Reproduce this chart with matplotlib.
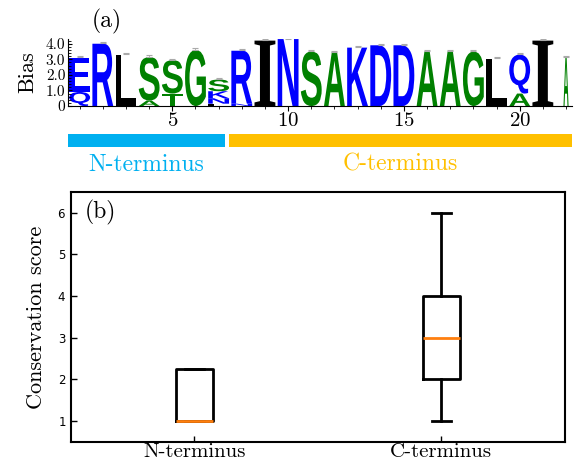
import numpy as np
import matplotlib
matplotlib.use("Agg")
import matplotlib.pyplot as plt
from matplotlib.textpath import TextPath
from matplotlib.font_manager import FontProperties
from matplotlib.patches import PathPatch
from matplotlib.transforms import Affine2D
from matplotlib.ticker import MultipleLocator, FixedLocator, FixedFormatter

plt.rcParams['axes.formatter.use_mathtext'] = True

# ---- data: sequence logo (a) ----
positions = np.arange(1, 23)
logo_letters = [["Q", "E"], ["R"], ["L"], ["A", "S"], ["T", "S"], ["G"],
                ["L", "N", "K", "S"], ["N", "R"], ["I"], ["N"], ["S"], ["A"],
                ["K"], ["D"], ["D"], ["A"], ["A"], ["G"], ["L"], ["A", "Q"],
                ["I"], ["A"]]
logo_heights = [[0.9, 2.2], [4.0], [3.3], [0.35, 2.8], [0.8, 2.15], [3.6],
                [0.15, 0.35, 0.45, 0.75], [0.15, 3.4], [4.2], [4.3], [3.5], [3.45],
                [3.75], [3.9], [3.9], [3.5], [3.5], [3.5], [3.05], [0.8, 2.5],
                [4.2], [3.1]]

segments = ["N-terminus", "C-terminus"]
seg_start = [1, 8]
seg_end = [7, 22]

# ---- data: box plot (b) ----
groups = ["N-terminus", "C-terminus"]
whislo = [1, 1]
q1 = [1, 2]
med = [1, 3]
q3 = [2.25, 4]
whishi = [2.25, 6]

letter_colors = {"Q": "#0000ff", "E": "#0000ff", "R": "#0000ff", "K": "#0000ff",
                 "N": "#0000ff", "D": "#0000ff",
                 "S": "#008000", "G": "#008000", "T": "#008000", "A": "#008000",
                 "L": "#000000", "I": "#000000"}
seg_colors = ["#00b0f0", "#ffc000"]

fp_sans = FontProperties(family="Liberation Sans", weight="bold")
fp_serif = FontProperties(family="Liberation Serif", weight="bold")
cm = "cmr10"


def draw_letter(ax, letter, x, y0, w, h):
    fp = fp_serif if letter == "I" else fp_sans
    tp = TextPath((0, 0), letter, size=1, prop=fp)
    bb = tp.get_extents()
    tr = (Affine2D().translate(-bb.x0, -bb.y0)
          .scale(w / bb.width, h / bb.height)
          .translate(x - w / 2, y0))
    ax.add_patch(PathPatch(tr.transform_path(tp), facecolor=letter_colors[letter],
                           edgecolor="none"))


fig = plt.figure(figsize=(5.77, 4.65), dpi=100)

# (a) logo
ax1 = fig.add_axes([0.118, 0.772, 0.873, 0.144])
tops = []
for i, (x, lets, hs) in enumerate(zip(positions, logo_letters, logo_heights)):
    y = 0
    w = 0.9 if i < len(positions) - 1 else 0.22
    for l, h in zip(lets, hs):
        draw_letter(ax1, l, x, y, w, h)
        y += h
    tops.append(y)
tops = np.array(tops)
ax1.errorbar(positions, tops + 0.06, yerr=0.04, fmt="none", ecolor="#aaaaaa",
             elinewidth=0.6, capsize=2, capthick=0.8)
ax1.set_xlim(0.5, 22.25)
ax1.set_ylim(0, 4.3)
ax1.spines["top"].set_visible(False)
ax1.spines["right"].set_visible(False)
ax1.set_xticks([5, 10, 15, 20])
ax1.xaxis.set_minor_locator(MultipleLocator(1))
ax1.yaxis.set_major_locator(FixedLocator([0, 1, 2, 3, 4]))
ax1.yaxis.set_major_formatter(FixedFormatter(["0", "1.0", "2.0", "3.0", "4.0"]))
ax1.yaxis.set_minor_locator(MultipleLocator(0.2))
ax1.tick_params(axis="y", direction="in", length=3, pad=2)
ax1.tick_params(axis="y", which="minor", direction="in", length=2)
ax1.tick_params(axis="x", which="minor", length=2)
ax1.tick_params(axis="x", pad=1)
for lab in ax1.get_yticklabels():
    lab.set_fontfamily(cm)
    lab.set_fontsize(11)
for lab in ax1.get_xticklabels():
    lab.set_fontfamily(cm)
    lab.set_fontsize(15)
ax1.set_ylabel("Bias", fontfamily=cm, fontsize=16, labelpad=6)
ax1.text(0.076, 1.08, "(a)", transform=ax1.transAxes, fontfamily=cm, fontsize=17,
         ha="center", va="bottom")

# terminus bars
ax_seg = fig.add_axes([0.118, 0.62, 0.873, 0.10], sharex=ax1)
ax_seg.set_ylim(0, 1)
for name, s, e, c in zip(segments, seg_start, seg_end, seg_colors):
    left = s - 0.5 if s == 1 else s - 0.55
    right = e + 0.28 if e < 22 else 22.25
    ax_seg.barh(0.78, right - left, left=left, height=0.28, color=c)
    ax_seg.text((left + right) / 2, 0.26, name, color=c, fontfamily=cm,
                fontsize=17, ha="center", va="center")
ax_seg.axis("off")

# (b) box plot
ax2 = fig.add_axes([0.123, 0.05, 0.856, 0.537])
stats = [dict(label=g, whislo=a, q1=b, med=m, q3=c, whishi=d, fliers=[])
         for g, a, b, m, c, d in zip(groups, whislo, q1, med, q3, whishi)]
ax2.bxp(stats, positions=[1, 2], widths=0.15, showfliers=False,
        boxprops=dict(color="black", linewidth=2),
        whiskerprops=dict(color="black", linewidth=2),
        capprops=dict(color="black", linewidth=2),
        medianprops=dict(color="#ff7f0e", linewidth=2))
ax2.set_xlim(0.5, 2.5)
ax2.set_ylim(0.5, 6.5)
ax2.set_yticks([1, 2, 3, 4, 5, 6])
for s in ax2.spines.values():
    s.set_linewidth(1.5)
ax2.tick_params(direction="in", length=4, width=1)
ax2.tick_params(axis="y", labelsize=8.5)
for lab in ax2.get_xticklabels():
    lab.set_fontfamily(cm)
    lab.set_fontsize(15)
ax2.tick_params(axis="x", pad=1)
ax2.set_ylabel("Conservation score", fontfamily=cm, fontsize=16, labelpad=8)
ax2.text(0.62, 6.0, "(b)", fontfamily=cm, fontsize=17, ha="center", va="center")

fig.savefig("out.png", dpi=100)
